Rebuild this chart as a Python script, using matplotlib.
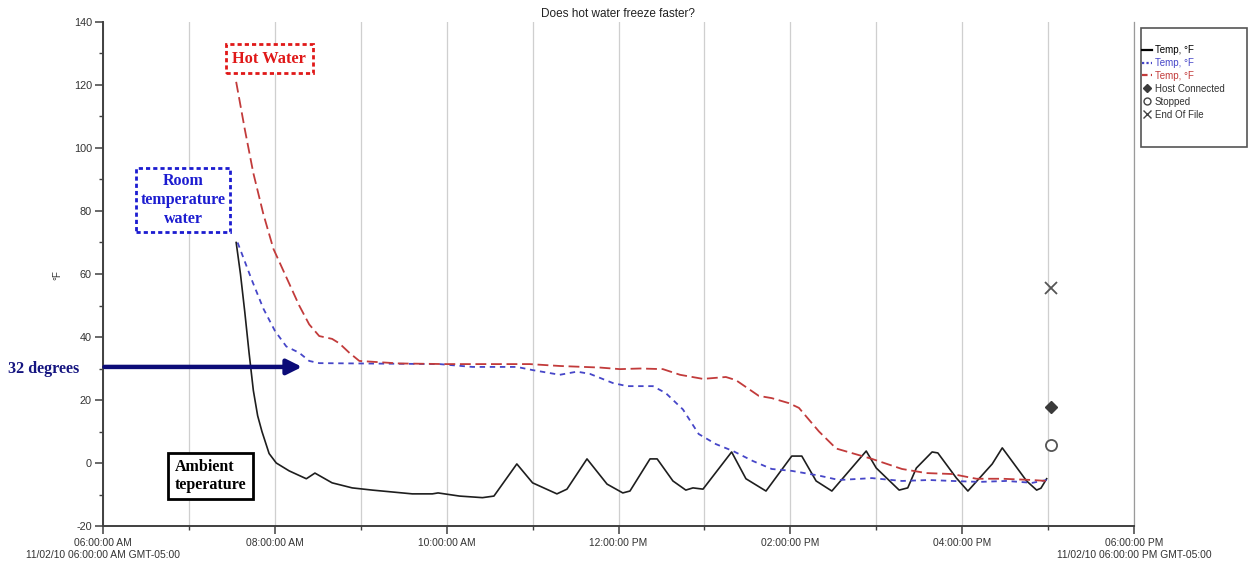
import datetime as dt
import matplotlib
matplotlib.use("Agg")
import matplotlib.pyplot as plt
import matplotlib.dates as mdates
import pandas as pd
from matplotlib.lines import Line2D
from matplotlib.patches import Rectangle

# -------------------------
#  DATA (logger readouts, 11/02/10)
# -------------------------
DAY = "2010-11-02 "

ambient_times = ["07:33", "07:36", "07:39", "07:42", "07:45", "07:48", "07:51", "07:56",
                 "08:01", "08:10",
                 "08:22", "08:28", "08:40", "08:54", "09:08", "09:36", "09:50", "09:54",
                 "10:09", "10:25", "10:33", "10:49", "11:00", "11:17", "11:24", "11:38",
                 "11:52", "12:03", "12:08", "12:22", "12:27", "12:38", "12:47", "12:52",
                 "12:59", "13:19", "13:29", "13:43", "14:01", "14:08", "14:18", "14:29",
                 "14:53", "15:00", "15:16", "15:22", "15:28", "15:39", "15:43", "15:56",
                 "16:04", "16:21", "16:28", "16:45", "16:52", "16:55", "16:59"]
ambient_temps = [70, 60, 48, 35, 23, 15, 10, 3,
                 0, -2.5,
                 -5, -3.2, -6.3, -7.9, -8.6, -9.8, -9.8, -9.5,
                 -10.5, -11, -10.5, -0.3, -6.3, -9.8, -8.3, 1.3,
                 -6.7, -9.5, -8.9, 1.3, 1.3, -5.7, -8.6, -7.9,
                 -8.3, 3.5, -5, -8.9, 2.2, 2.2, -5.7, -8.9,
                 3.8, -1.6, -8.6, -7.9, -1.6, 3.5, 3.2, -4.8,
                 -8.9, -0.3, 4.8, -5.7, -8.6, -8, -5]

room_times = ["07:34", "07:39", "07:44", "07:52", "08:00", "08:08", "08:17", "08:24",
              "08:31",
              "09:55", "10:18", "10:49", "11:00", "11:19", "11:31", "11:40", "11:56",
              "12:06", "12:24", "12:33", "12:45", "12:56", "13:08", "13:20", "13:34",
              "13:47", "14:01", "14:20", "14:34", "14:57", "15:18", "15:37", "15:53",
              "16:12", "16:31", "16:49", "16:59"]
room_temps = [70, 64, 58, 49, 42, 37, 35, 32.4,
              31.7,
              31.4, 30.5, 30.5, 29.5, 28, 29, 28.3, 25.4,
              24.4, 24.4, 22.2, 17, 9.2, 6, 3.8, 0.6,
              -1.9, -2.5, -4, -5.4, -4.8, -5.7, -5.4, -5.7,
              -6, -5.7, -6.3, -5.4]

hot_times = ["07:33", "07:39", "07:45", "07:52", "07:59", "08:04", "08:10", "08:17",
             "08:24", "08:31", "08:40", "08:45",
             "08:52", "08:59", "09:27", "10:00", "10:58", "11:19", "11:47", "12:01",
             "12:15", "12:31", "12:43", "12:59", "13:15", "13:22", "13:38", "13:47",
             "13:59", "14:06", "14:20", "14:32", "14:57", "15:18", "15:35", "15:53",
             "16:10", "16:28", "16:49", "16:59"]
hot_temps = [121, 106, 92, 79, 68, 63, 57, 50,
             44, 40.3, 39.4, 38,
             35, 32.4, 31.6, 31.4, 31.4, 30.8, 30.3, 29.8,
             30, 29.8, 28, 26.7, 27.3, 26.3, 21.3, 20.6,
             19, 17.5, 10, 4.6, 1.3, -1.9, -3.2, -3.5,
             -5, -5, -5.4, -5.7]

# logger event markers
event_labels = ["Host Connected", "Stopped", "End Of File"]
event_times = ["17:02", "17:02", "17:02"]
event_values = [17.8, 5.7, 55.5]

hour_ticks = ["06:00", "08:00", "10:00", "12:00", "14:00", "16:00", "18:00"]
hour_tick_labels = ["06:00:00 AM\n11/02/10 06:00:00 AM GMT-05:00", "08:00:00 AM",
                    "10:00:00 AM", "12:00:00 PM", "02:00:00 PM", "04:00:00 PM",
                    "06:00:00 PM\n11/02/10 06:00:00 PM GMT-05:00"]


def to_dt(times):
    return pd.to_datetime([DAY + t for t in times])


SANS = ["Liberation Sans", "DejaVu Sans"]
SERIF = ["Liberation Serif", "DejaVu Serif"]
plt.rcParams["font.family"] = SANS
plt.rcParams["axes.unicode_minus"] = False

BLACK = "#1e1e1e"
BLUE = "#4646c8"
RED = "#c23b3b"
NAVY = "#0c0c78"

fig = plt.figure(figsize=(12.51, 5.71), dpi=100)
ax = fig.add_axes([103 / 1251, 1 - 526 / 571, (1134 - 103) / 1251, (526 - 22) / 571])

ax.plot(to_dt(ambient_times), ambient_temps, color=BLACK, lw=1.2)
ax.plot(to_dt(room_times), room_temps, color=BLUE, lw=1.3, dashes=(3, 2.6))
ax.plot(to_dt(hot_times), hot_temps, color=RED, lw=1.3, dashes=(6, 2.6))

ev_x = to_dt(event_times)
ax.plot(ev_x[0], event_values[0], marker="D", ms=6, color="#3a3a3a", ls="none")
ax.plot(ev_x[1], event_values[1], marker="o", ms=8, mfc="white", mec="#555555",
        mew=1.3, ls="none")
ax.plot(ev_x[2], event_values[2], marker="x", ms=9, color="#555555", mew=1.3, ls="none")

# axes
ax.set_xlim(pd.Timestamp(DAY + "06:00"), pd.Timestamp(DAY + "18:00"))
ax.set_ylim(-20, 140)
ax.set_xticks(to_dt(hour_ticks))
ax.set_xticklabels(hour_tick_labels)
ax.set_xticks(to_dt(["%02d:00" % h for h in range(7, 18, 2)]), minor=True)
ax.set_yticks(range(-20, 141, 20))
ax.set_yticks(range(-10, 140, 20), minor=True)
ax.grid(True, axis="x", which="both", color="#cfcfcf", lw=0.9)
ax.set_axisbelow(True)

ax.spines["top"].set_visible(False)
ax.spines["right"].set_color("#9a9a9a")
ax.spines["right"].set_linewidth(0.9)
for s in ["left", "bottom"]:
    ax.spines[s].set_color("#404040")
    ax.spines[s].set_linewidth(1.4)

ax.tick_params(axis="both", which="major", direction="out", length=6, width=1.1,
               color="#404040", labelcolor="#333333")
ax.tick_params(axis="both", which="minor", direction="out", length=3, width=1.0,
               color="#404040")
ax.tick_params(axis="x", labelsize=7.4, pad=3)
ax.tick_params(axis="y", labelsize=7.8, pad=2)
ax.tick_params(axis="y", right=False)

fig.text(57 / 1251, 1 - 275 / 571, "°F", rotation=90, fontsize=7, color="#333333",
         ha="center", va="center")
fig.text(618 / 1251, 1 - 14 / 571, "Does hot water freeze faster?", fontsize=8.5,
         color="#222222", ha="center", va="center")

# annotations
ax.text(pd.Timestamp(DAY + "07:56"), 128.3, "Hot Water", family=SERIF, weight="bold",
        fontsize=11.8, color="#e01818", ha="center", va="center",
        bbox=dict(boxstyle="square,pad=0.4", fc="white", ec="#e01818", lw=2,
                  ls=(0, (1.5, 1.1))))
ax.text(pd.Timestamp(DAY + "06:56"), 83.5, "Room\ntemperature\nwater", family=SERIF,
        weight="bold", fontsize=11.5, color="#1c1cd0", ha="center", va="center",
        linespacing=1.25,
        bbox=dict(boxstyle="square,pad=0.3", fc="white", ec="#1c1cd0", lw=2,
                  ls=(0, (1.5, 1.1))))
ax.text(pd.Timestamp(DAY + "07:15"), -4.1, "Ambient\nteperature", family=SERIF,
        weight="bold", fontsize=11.5, color="black", ha="center", va="center",
        multialignment="left", linespacing=1.15,
        bbox=dict(boxstyle="square,pad=0.4", fc="white", ec="black", lw=2))

ax.annotate("", xy=(pd.Timestamp(DAY + "08:19"), 30.5),
            xytext=(pd.Timestamp(DAY + "06:01"), 30.5),
            arrowprops=dict(arrowstyle="-|>,head_length=0.9,head_width=0.45", lw=3.2,
                            color=NAVY, shrinkA=0, shrinkB=0),
            annotation_clip=False)
fig.text(8 / 1251, 1 - 369 / 571, "32 degrees", family=SERIF, weight="bold",
         fontsize=11.6, color="#151580", ha="left", va="center")

# legend
handles = [
    Line2D([], [], color="black", lw=1.6),
    Line2D([], [], color=BLUE, lw=1.6, ls=(0, (1, 1))),
    Line2D([], [], color=RED, lw=1.6, ls=(0, (2.5, 1.5))),
    Line2D([], [], marker="D", ms=4, color="#3a3a3a", ls="none"),
    Line2D([], [], marker="o", ms=5, mfc="white", mec="#444444", ls="none"),
    Line2D([], [], marker="x", ms=5.5, color="#444444", ls="none"),
]
labels = ["Temp, °F", "Temp, °F", "Temp, °F"] + event_labels
leg = fig.legend(handles, labels, loc="upper left",
                 bbox_to_anchor=(1142 / 1251, 1 - 45 / 571), frameon=False,
                 fontsize=7, handlelength=1.0, handletextpad=0.3, labelspacing=0.3,
                 borderpad=0, borderaxespad=0)
for txt, col in zip(leg.get_texts(), ["black", BLUE, RED, "#333", "#333", "#333"]):
    txt.set_color(col)
fig.patches.append(Rectangle((1141 / 1251, 1 - 147 / 571), 106 / 1251, 119 / 571,
                             transform=fig.transFigure, fill=False, ec="#555555",
                             lw=1.2))

fig.savefig("out.png", dpi=100)
